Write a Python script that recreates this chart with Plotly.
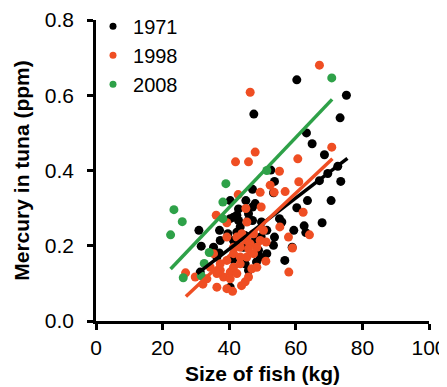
import plotly.graph_objects as go

# ---- data ----
years = ["1971", "1998", "2008"]
colors = ["#000000", "#EF4E23", "#2EA148"]

x_1971 = [60.3, 75.2, 47.4, 73.3, 63.2, 64.9, 68.6, 72.6, 69.6, 73.5, 67.1, 70.6, 63.5, 60.3, 67.9,
          62.5, 63.0, 59.4, 56.7, 58.9, 52.5, 53.6, 53.3, 55.1, 55.8, 53.6, 53.3, 49.6, 47.0, 47.8,
          47.0, 45.0, 40.3, 40.3, 42.3, 42.8, 37.1, 30.9, 31.6, 39.6, 42.3, 37.0, 40.3, 44.8, 45.8,
          48.2, 47.0, 49.7, 51.3, 31.3, 41.1, 44.3, 48.8, 41.3, 43.3, 45.8, 37.3, 35.3, 41.3, 44.8,
          49.3, 47.8, 51.3, 45.8, 42.8, 36.3]
y_1971 = [0.641, 0.600, 0.550, 0.540, 0.500, 0.471, 0.442, 0.411, 0.392, 0.371, 0.373, 0.320, 0.320, 0.301, 0.261,
          0.253, 0.235, 0.241, 0.161, 0.196, 0.401, 0.371, 0.341, 0.272, 0.263, 0.223, 0.201, 0.224, 0.350, 0.312,
          0.303, 0.320, 0.320, 0.272, 0.281, 0.267, 0.241, 0.241, 0.199, 0.232, 0.236, 0.181, 0.090, 0.152, 0.135,
          0.157, 0.267, 0.263, 0.241, 0.130, 0.163, 0.196, 0.188, 0.276, 0.250, 0.285, 0.214, 0.196, 0.214, 0.227,
          0.170, 0.214, 0.179, 0.267, 0.298, 0.170]

x_1998 = [67.1, 46.3, 47.8, 45.8, 41.9, 60.6, 70.8, 55.1, 60.9, 56.8, 53.5, 52.3, 49.3, 49.6, 42.7,
          45.0, 36.1, 39.3, 45.3, 62.2, 55.2, 57.8, 59.0, 64.1, 57.9, 51.0, 26.9, 29.8, 32.1, 36.3,
          39.3, 41.0, 43.7, 44.8, 45.8, 34.3, 37.3, 38.3, 40.3, 41.3, 43.3, 45.3, 47.3, 48.3, 49.3,
          47.3, 45.3, 43.3, 41.3, 39.3, 37.3, 36.3, 40.3, 42.3, 46.8, 48.3, 42.3, 43.8, 46.3, 50.3,
          51.1, 41.3, 39.3, 35.3, 43.3, 45.8, 33.3]
y_1998 = [0.680, 0.608, 0.449, 0.423, 0.423, 0.431, 0.462, 0.398, 0.370, 0.344, 0.342, 0.361, 0.342, 0.303, 0.336,
          0.299, 0.281, 0.261, 0.263, 0.289, 0.250, 0.223, 0.194, 0.229, 0.130, 0.159, 0.128, 0.117, 0.098, 0.090,
          0.086, 0.079, 0.094, 0.104, 0.117, 0.143, 0.135, 0.117, 0.130, 0.143, 0.152, 0.170, 0.179, 0.196, 0.214,
          0.232, 0.214, 0.196, 0.179, 0.161, 0.152, 0.126, 0.112, 0.126, 0.139, 0.143, 0.223, 0.232, 0.205, 0.241,
          0.210, 0.196, 0.223, 0.179, 0.170, 0.192, 0.112]

x_2008 = [22.4, 23.4, 25.9, 26.2, 31.6, 32.5, 34.0, 38.1, 39.0, 38.1, 51.3, 70.8]
y_2008 = [0.229, 0.296, 0.264, 0.115, 0.120, 0.153, 0.182, 0.316, 0.365, 0.272, 0.400, 0.646]

# trend line end points
trend_x_1971 = [30.4, 75.5]
trend_y_1971 = [0.126, 0.432]
trend_x_1998 = [27.0, 71.0]
trend_y_1998 = [0.065, 0.431]
trend_x_2008 = [22.4, 70.9]
trend_y_2008 = [0.138, 0.589]

x_ticks = [0, 20, 40, 60, 80, 100]
y_ticks = [0.0, 0.2, 0.4, 0.6, 0.8]
y_tick_labels = ["0.0", "0.2", "0.4", "0.6", "0.8"]

FONT = "Liberation Sans, Arial, Helvetica, sans-serif"

fig = go.Figure()

points = [(x_1971, y_1971), (x_1998, y_1998), (x_2008, y_2008)]
trends = [(trend_x_1971, trend_y_1971), (trend_x_1998, trend_y_1998), (trend_x_2008, trend_y_2008)]

for (xs, ys), c in zip(points, colors):
    fig.add_trace(go.Scatter(x=xs, y=ys, mode="markers", showlegend=False,
                             marker=dict(size=9, color=c, line=dict(width=0)),
                             cliponaxis=False))

for (xs, ys), c in zip(trends, colors):
    fig.add_trace(go.Scatter(x=xs, y=ys, mode="lines", showlegend=False,
                             line=dict(color=c, width=3.5)))

# legend-only entries with small dots
for yr, c in zip(years, colors):
    fig.add_trace(go.Scatter(x=[None], y=[None], mode="markers", name=yr,
                             marker=dict(size=7, color=c)))

# the page body adds an 8px offset, so the figure is 8px smaller and margins shifted
fig.update_layout(
    width=439, height=379,
    margin=dict(l=88, r=18, t=11.5, b=66.3, autoexpand=False),
    paper_bgcolor="white", plot_bgcolor="white",
    font=dict(family=FONT, size=21, color="black"),
    legend=dict(x=-0.009, y=1.044, xanchor="left", yanchor="top",
                bgcolor="rgba(0,0,0,0)", font=dict(size=20),
                itemwidth=30, tracegroupgap=0),
    xaxis=dict(range=[0, 100], tickvals=x_ticks, showgrid=False, zeroline=False,
               showline=True, linecolor="black", linewidth=2.5,
               ticks="outside", ticklen=6, tickwidth=2.5, tickcolor="black",
               ticklabelstandoff=0, automargin=False,
               title=dict(text="<b>Size of fish (kg)</b>", font=dict(size=21), standoff=9)),
    yaxis=dict(range=[0, 0.8], tickvals=y_ticks, ticktext=y_tick_labels, showgrid=False,
               zeroline=False, showline=True, linecolor="black", linewidth=2.5,
               ticks="outside", ticklen=6, tickwidth=2.5, tickcolor="black",
               ticklabelstandoff=9, automargin=False,
               title=dict(text="<b>Mercury in tuna (ppm)</b>", font=dict(size=21), standoff=10)),
)

fig.write_html("out.html")
